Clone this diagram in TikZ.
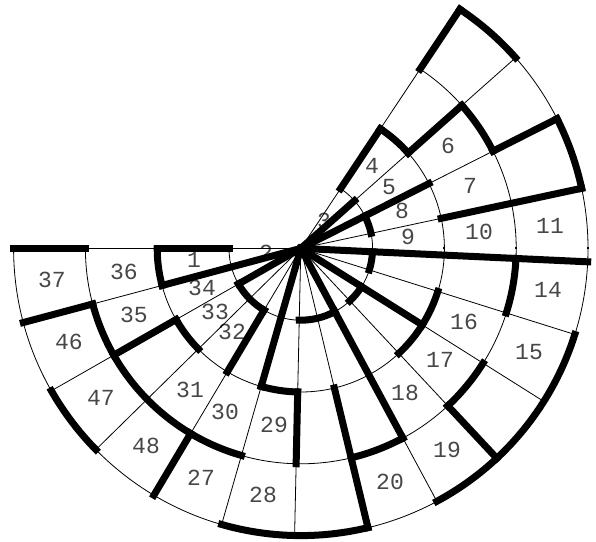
\documentclass[tikz,border=0pt]{standalone}
\usepackage{fontspec}
\newfontfamily\cellfont{Liberation Mono}
\usepackage{tikz}
\tikzset{
	thinwall/.style={line width=0.8pt},
	wall/.style={line width=7pt,line cap=rect},
	cell/.style={font=\cellfont\fontsize{23}{23}\selectfont,text=black!72,inner sep=0pt}
}
\begin{document}
\begin{tikzpicture}[x=1pt,y=1pt]
	\useasboundingbox (0,0) rectangle (596,541);
	% the cell numbers
	\foreach \n/\x/\y in {1/194/260,2/266/253,3/324/221,4/372/166,5/389/187,6/448/146,7/470/186,8/402/211,9/408/237,10/479/232,11/550/226,14/548/290,15/529/352,16/464/322,17/440/360,18/405/393,19/447/450,20/390/482,27/201/478,28/263/495,29/274/425,30/225/412,31/190/390,32/232/332,33/215/312,34/202/288,35/134/315,36/124/272,37/52/280,46/69/342,47/101/398,48/146/446}
		\node[cell] (c\n) at (\x,{541-\y}) {\n};
	\begin{scope}[shift={(300.8,292.6)}]
		% the grid
		\foreach \k in {1,...,16}
			\draw[thinwall] (0,0) -- ({180.2+14.76*\k}:287);
		\foreach \r in {1,...,4}
			\draw[thinwall] (180:{71.8*\r}) arc[start angle=180,end angle={180.2+14.76*16},radius={71.8*\r}];
		\draw[line width=1.6pt] (0,0) -- (180:287);
		% walls along the spokes: spoke/from ring/to ring
		\foreach \k/\a/\b in {1/0/2,1/3/4,2/0/1,2/2/3,4/1/2,4/3/4,5/0/2,6/2/3,7/2/4,8/0/3,9/3/4,10/0/2,12/0/4,13/2/4,14/0/2,14/3/4,15/0/1,15/2/3,16/1/2,16/3/4}
			\draw[wall] ({180.2+14.76*\k}:{71.8*\a}) -- ({180.2+14.76*\k}:{71.8*\b});
		\foreach \a/\b in {1/2,3/4}
			\draw[wall] (180:{71.8*\a}) -- (180:{71.8*\b});
		% walls along the rings: ring/from spoke/to spoke
		\foreach \r/\a/\b in {1/2/4,1/6/8,1/9/10,1/11/12,1/13/14,2/0/1,2/2/3,2/5/6,2/9/11,2/15/16,3/1/5,3/7/8,3/9/10,3/11/12,3/14/15,4/2/3,4/5/7,4/8/11,4/13/14,4/15/16}
			\draw[wall] ({180.2+14.76*\a}:{71.8*\r}) arc[start angle={180.2+14.76*\a},end angle={180.2+14.76*\b},radius={71.8*\r}];
		% small marks on the horizontal
		\foreach \r in {2,3,4}
			\fill ({71.8*\r-1},-1) rectangle ({71.8*\r+1},1);
	\end{scope}
\end{tikzpicture}
\end{document}
